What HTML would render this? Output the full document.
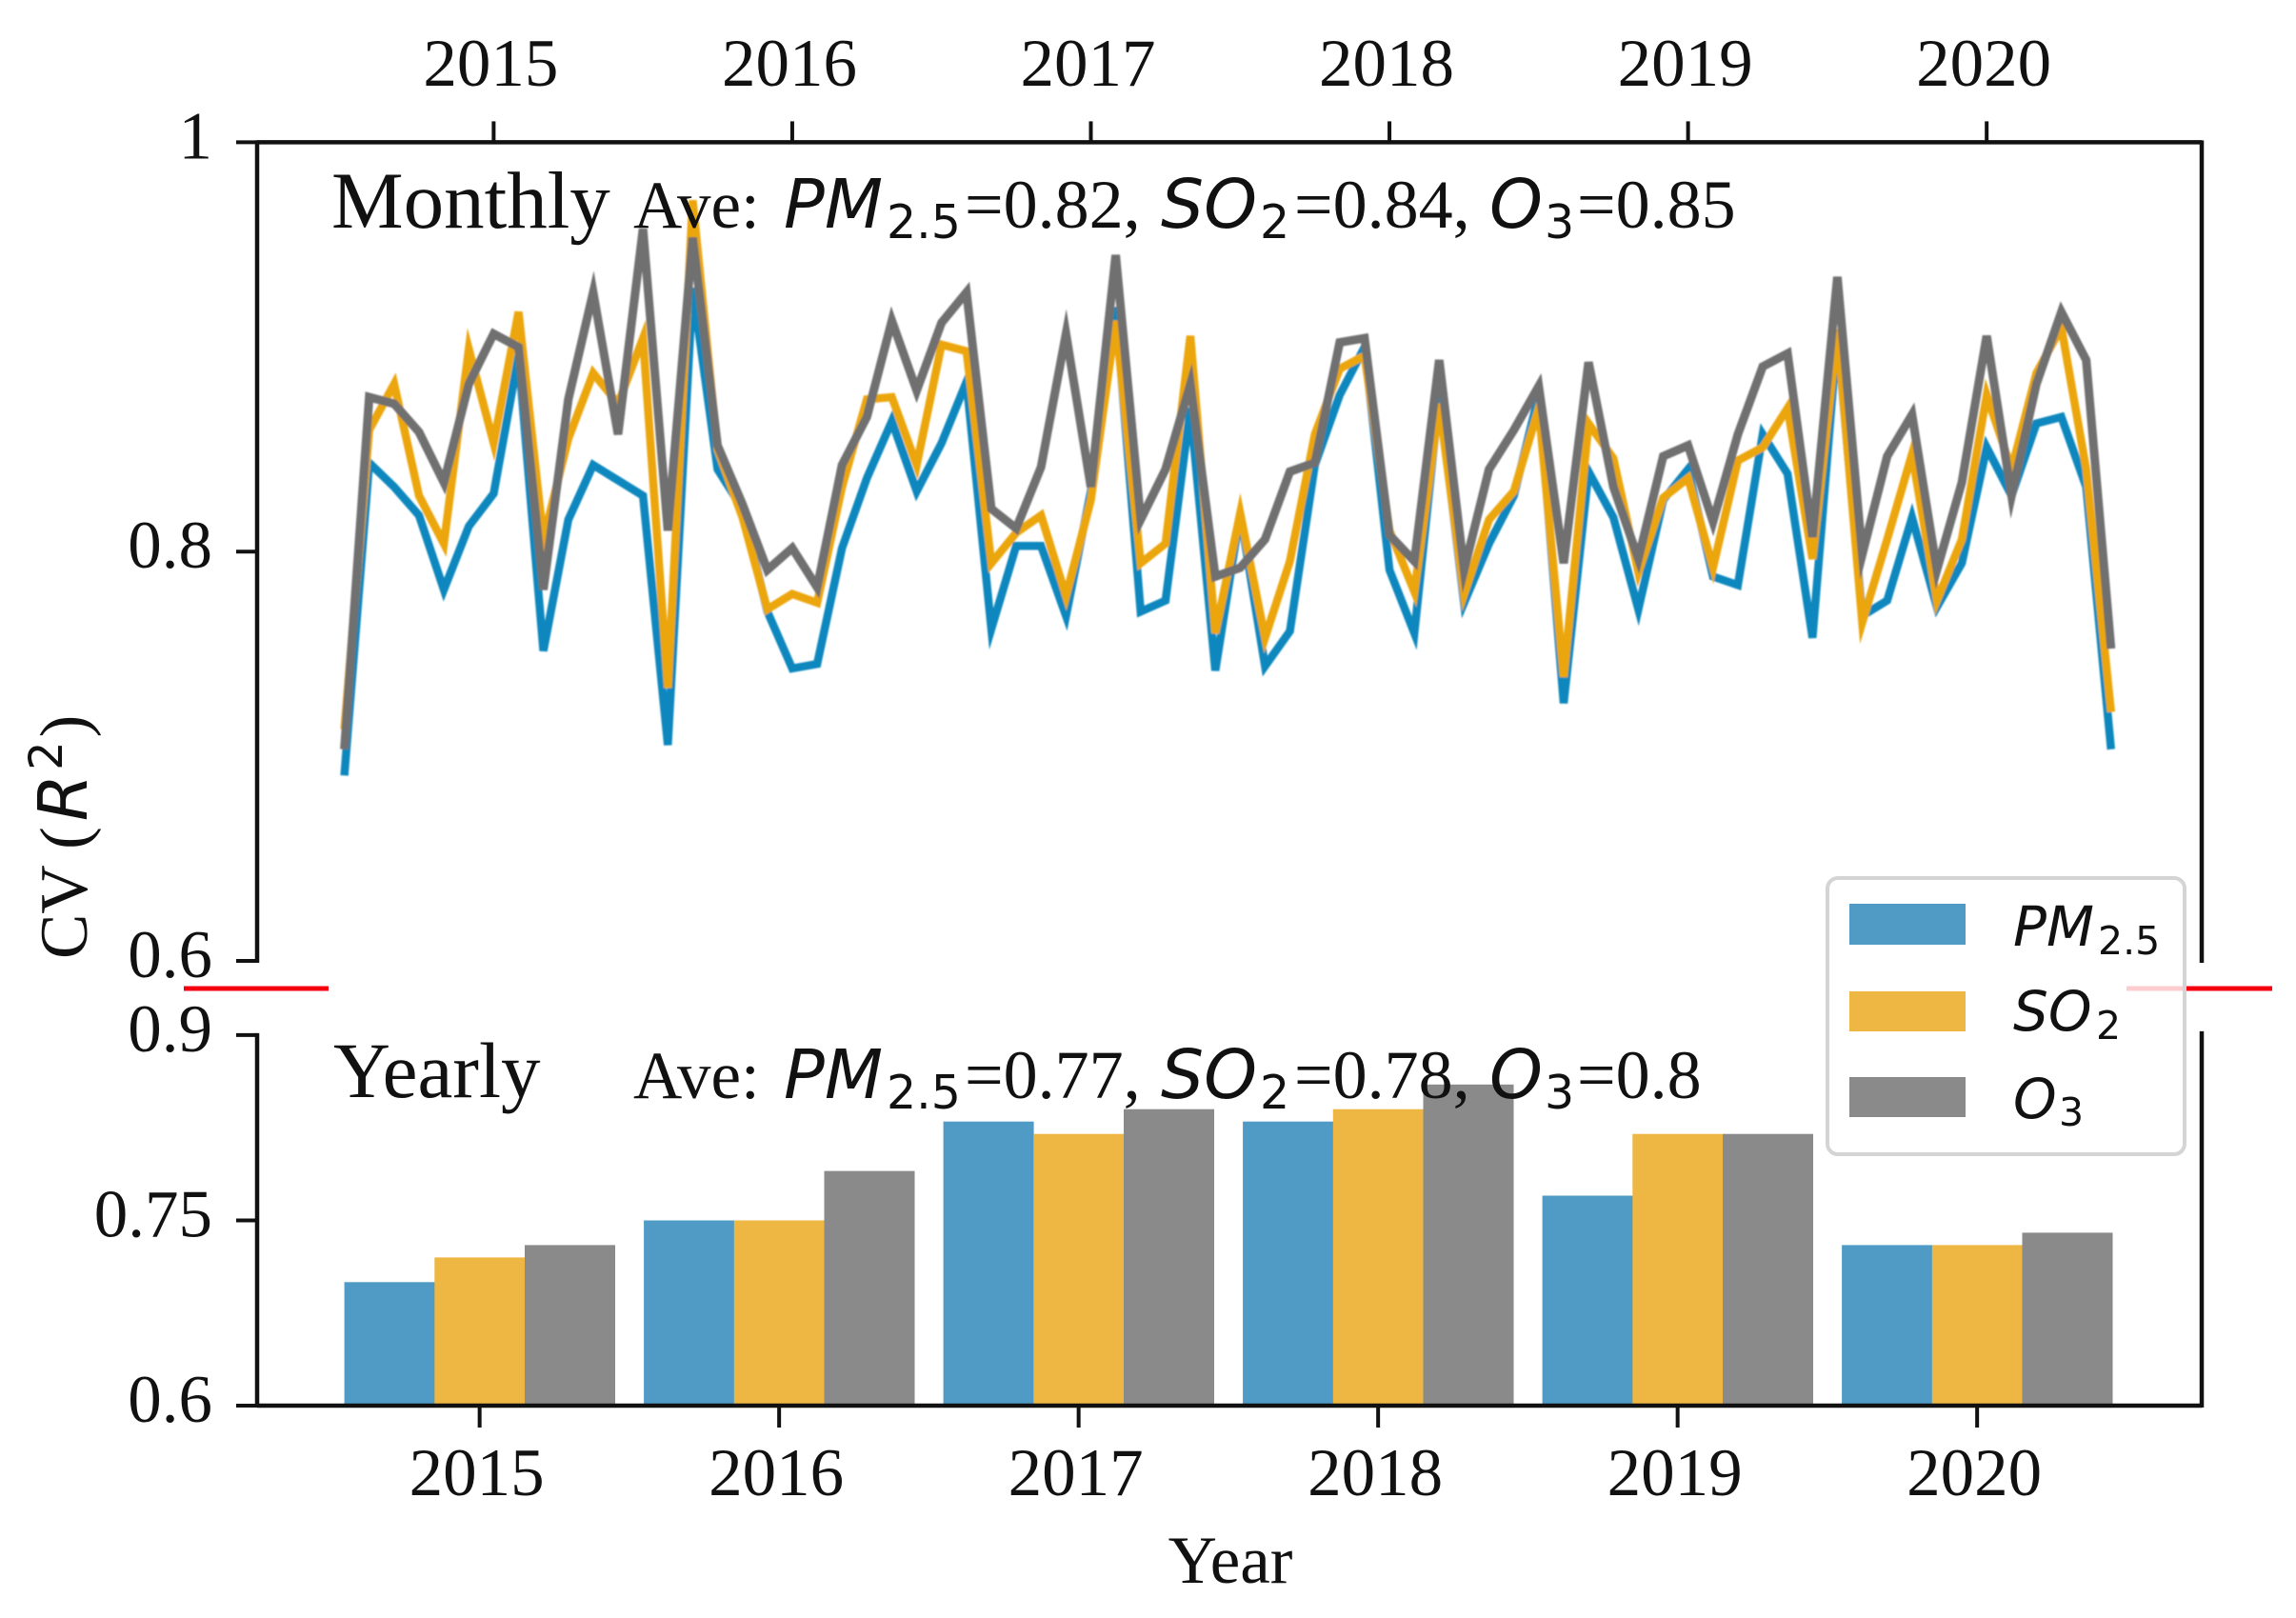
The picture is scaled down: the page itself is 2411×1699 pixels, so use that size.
<!DOCTYPE html>
<html lang="en">
<head>
<meta charset="utf-8">
<title>CV R2 monthly and yearly chart</title>
<style>
html,body{margin:0;padding:0;background:#fff}
svg{display:block}
text{fill:#111;font-family:"Liberation Serif",serif}
.m{font-family:"DejaVu Sans",sans-serif;font-style:italic}
.s{font-family:"DejaVu Sans",sans-serif}
</style>
</head>
<body>
<svg id="chart" xmlns="http://www.w3.org/2000/svg" width="2411" height="1699" viewBox="0 0 2411 1699">
<defs><filter id="soft" x="-2%" y="-2%" width="104%" height="104%"><feGaussianBlur stdDeviation="0.7"/></filter></defs>
<g id="monthly-lines" filter="url(#soft)"></g>
<g id="yearly-bars"></g>
<g id="axes"></g>

<g>
<text x="348" y="239" font-size="85">Monthly</text>
<text x="665" y="239" font-size="71">Ave:</text>
<text class="m" x="823" y="239" font-size="71">PM</text><text class="s" x="931" y="250" font-size="49">2.5</text>
<text x="1013" y="239" font-size="72">=0.82,</text>
<text class="m" x="1219" y="239" font-size="71">SO</text><text class="s" x="1323" y="250" font-size="49">2</text>
<text x="1359" y="239" font-size="72">=0.84,</text>
<text class="m" x="1564" y="239" font-size="71">O</text><text class="s" x="1622" y="250" font-size="49">3</text>
<text x="1656" y="239" font-size="72">=0.85</text>
</g>

<g>
<text x="350" y="1152" font-size="83">Yearly</text>
<text x="665" y="1153" font-size="71">Ave:</text>
<text class="m" x="823" y="1153" font-size="71">PM</text><text class="s" x="931" y="1164" font-size="49">2.5</text>
<text x="1013" y="1153" font-size="72">=0.77,</text>
<text class="m" x="1219" y="1153" font-size="71">SO</text><text class="s" x="1323" y="1164" font-size="49">2</text>
<text x="1359" y="1153" font-size="72">=0.78,</text>
<text class="m" x="1564" y="1153" font-size="71">O</text><text class="s" x="1622" y="1164" font-size="49">3</text>
<text x="1656" y="1153" font-size="72">=0.8</text>
</g>

<text x="1292" y="1662" font-size="71" text-anchor="middle">Year</text>
<text transform="translate(91,1007) rotate(-90)" font-size="71">CV (<tspan class="m" dx="6">R</tspan><tspan class="s" font-size="48" dx="4" dy="-26">2</tspan><tspan dy="26" dx="4">)</tspan></text>

<g>
<line x1="193" y1="1038" x2="345" y2="1038" stroke="#f5000f" stroke-width="5"/>
<line x1="2233" y1="1038" x2="2386" y2="1038" stroke="#f5000f" stroke-width="5"/>
</g>

<g>
<rect x="1919" y="922" width="375" height="290" rx="11" fill="#fff" fill-opacity="0.8" stroke="#d4d4d4" stroke-width="4"/>
<rect x="1942" y="949" width="122" height="43" fill="#4f9bc6"/>
<rect x="1942" y="1041" width="122" height="42" fill="#eeb642"/>
<rect x="1942" y="1131" width="122" height="42" fill="#8a8a8a"/>
<text class="m" x="2114" y="993" font-size="58">PM</text><text class="s" x="2203" y="1002" font-size="41">2.5</text>
<text class="m" x="2114" y="1082" font-size="58">SO</text><text class="s" x="2201" y="1091" font-size="41">2</text>
<text class="m" x="2114" y="1174" font-size="58">O</text><text class="s" x="2162" y="1182" font-size="41">3</text>
</g>
</svg>

<script>
var years = ['2015','2016','2017','2018','2019','2020'];
var monthlyTicks = [1, 0.8, 0.6];
var monthlyTickLabels = ['1', '0.8', '0.6'];
var yearlyTicks = [0.9, 0.75, 0.6];
var yearlyTickLabels = ['0.9', '0.75', '0.6'];

var monthlyPM25 = [.6906,.8434,.8316,.8177,.7814,.8124,.8284,.8957,.7515,.8156,.8423,.8348,
  .8273,.7055,.9288,.8402,.8209,.7707,.7429,.7451,.8017,.8359,.8637,.8295,
  .853,.8829,.7622,.8028,.8028,.7686,.8295,.9193,.7707,.7761,.8701,.7419,
  .8188,.744,.7611,.8423,.8765,.8999,.791,.7601,.8765,.775,.8039,.8273,
  .8765,.7259,.8391,.8167,.7718,.8252,.8402,.7878,.7836,.8573,.838,.7579,
  .9064,.7686,.7761,.8167,.7729,.7943,.8509,.8273,.8626,.8658,.8316,.7034];
var monthlySO2 = [.7131,.8594,.8819,.8273,.8039,.899,.853,.9171,.806,.8552,.8872,.8722,
  .9043,.7334,.9716,.8498,.8167,.7718,.7793,.775,.8316,.8744,.8755,.8423,
  .9011,.8979,.7943,.8092,.8177,.7782,.8252,.9128,.7943,.8039,.9054,.7601,
  .8188,.7579,.7953,.8573,.8893,.8957,.8103,.7804,.8722,.7793,.8156,.8295,
  .8701,.7387,.8626,.8455,.79,.8263,.8359,.7921,.8445,.8509,.8701,.7964,
  .9086,.7654,.806,.8477,.7761,.806,.8765,.8402,.8872,.9096,.8402,.7216];
var monthlyO3 = [.7034,.8755,.8722,.8584,.8338,.8819,.9064,.8999,.7814,.8744,.9267,.8573,
  .9577,.8103,.9534,.8519,.8231,.791,.8017,.7825,.8423,.8658,.9128,.8787,
  .9118,.9267,.8209,.8113,.8413,.9064,.8316,.9449,.8156,.8402,.8819,.7878,
  .7921,.806,.8391,.8434,.9022,.9043,.8081,.7953,.8936,.791,.8402,.8594,
  .8808,.7943,.8925,.8316,.7964,.8466,.8519,.8146,.8573,.8904,.8968,.8071,
  .9342,.7985,.8466,.8669,.791,.8338,.9054,.8273,.8819,.9171,.8936,.7526];

var yearlyPM25 = [.70,.75,.83,.83,.77,.73];
var yearlySO2 = [.72,.75,.82,.84,.82,.73];
var yearlyO3 = [.73,.79,.84,.86,.82,.74];

var NS = 'http://www.w3.org/2000/svg';
function mk(parent, tag, attrs, txt) {
  var el = document.createElementNS(NS, tag);
  for (var k in attrs) { el.setAttribute(k, attrs[k]); }
  if (txt !== undefined) { el.textContent = txt; }
  parent.appendChild(el);
  return el;
}
function xMonth(i) { return 361.6 + 26.13 * i; }
function yMonthly(v) { return 149.4 + (1 - v) * 2149; }
function yYearly(v) { return 1476 - (v - 0.6) * 1297; }
function xGroup(y) { return 361.6 + 314.5 * y; }
var BAR_W = 94.7;

var lineG = document.getElementById('monthly-lines');
function drawLine(vals, color, name, width) {
  var pts = vals.map(function (v, i) { return xMonth(i).toFixed(1) + ',' + yMonthly(v).toFixed(1); }).join(' ');
  var el = mk(lineG, 'polyline', {points: pts, fill: 'none', stroke: color, 'stroke-width': width, 'stroke-linejoin': 'miter', 'stroke-miterlimit': 6});
  
  
}
drawLine(monthlyPM25, '#0b87bd', 'line-pm25', 8.5);
drawLine(monthlySO2, '#eca60a', 'line-so2', 8.5);
drawLine(monthlyO3, '#6f6f6f', 'line-o3', 9);

var barG = document.getElementById('yearly-bars');
function drawBars(vals, idx, color, name) {
  vals.forEach(function (v, y) {
    var top = yYearly(v);
    var el = mk(barG, 'rect', {x: (xGroup(y) + BAR_W * idx).toFixed(1), y: top.toFixed(1), width: BAR_W + 0.3, height: (yYearly(0.6) - top).toFixed(1), fill: color});
    
    
  });
}
drawBars(yearlyPM25, 0, '#4f9bc6', 'bar-pm25');
drawBars(yearlySO2, 1, '#eeb642', 'bar-so2');
drawBars(yearlyO3, 2, '#8a8a8a', 'bar-o3');

var axG = document.getElementById('axes');
var INK = '#111';
function seg(x1, y1, x2, y2, w, name) {
  var el = mk(axG, 'line', {x1: x1, y1: y1, x2: x2, y2: y2, stroke: INK, 'stroke-width': w});
  
  
}
var LEFT = 270, RIGHT = 2312;
var topY = yMonthly(1), midY = yMonthly(0.6), lowTop = yYearly(0.9), lowBot = yYearly(0.6);
seg(LEFT, topY - 2, LEFT, midY + 2, 4.5, 'upper-left-spine');
seg(RIGHT, topY - 2, RIGHT, midY + 2, 4.5, 'upper-right-spine');
seg(LEFT, topY, RIGHT, topY, 4.5, 'upper-top-spine');
seg(LEFT, lowTop - 2, LEFT, lowBot + 2, 4.5, 'lower-left-spine');
seg(RIGHT, lowTop - 4, RIGHT, lowBot + 2, 4.5, 'lower-right-spine');
seg(LEFT, lowBot, RIGHT, lowBot, 4.5, 'lower-bottom-spine');

monthlyTicks.forEach(function (v, i) {
  var y = yMonthly(v);
  seg(LEFT - 22, y, LEFT, y, 4, 'y-tick-monthly-' + monthlyTickLabels[i]);
  var t = mk(axG, 'text', {x: 223, y: y + 17, 'font-size': 71, 'text-anchor': 'end'}, monthlyTickLabels[i]);
  
  
});
yearlyTicks.forEach(function (v, i) {
  var y = yYearly(v);
  seg(LEFT - 22, y, LEFT, y, 4, 'y-tick-yearly-' + yearlyTickLabels[i]);
  var t = mk(axG, 'text', {x: 223, y: y + 17, 'font-size': 71, 'text-anchor': 'end'}, yearlyTickLabels[i]);
  
  
});
years.forEach(function (yr, i) {
  var xt = xMonth(6 + 12 * i);
  seg(xt, topY - 22, xt, topY, 4, 'x-tick-top-' + yr);
  var t1 = mk(axG, 'text', {x: xt - 3, y: 90, 'font-size': 71, 'text-anchor': 'middle'}, yr);
  
  
  var xb = xGroup(i) + 1.5 * BAR_W;
  seg(xb, lowBot, xb, lowBot + 23, 4, 'x-tick-bottom-' + yr);
  var t2 = mk(axG, 'text', {x: xb - 3, y: 1570, 'font-size': 71, 'text-anchor': 'middle'}, yr);
  
  
});
</script>
</body>
</html>
